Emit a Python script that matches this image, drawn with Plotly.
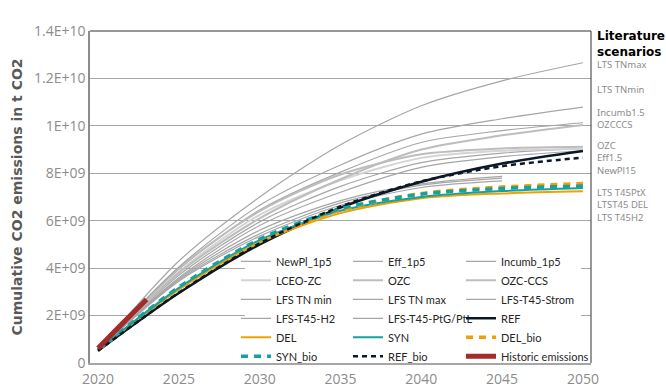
import plotly.graph_objects as go

# ---------------- data ----------------
YEARS = [2020, 2025, 2030, 2035, 2040, 2045, 2050]
YEARS_TO_2045 = [2020, 2025, 2030, 2035, 2040, 2045]
HIST_YEARS = [2020, 2021, 2022, 2023]

# cumulative CO2 emissions, billions of t CO2
newpl_1p5 = [0.55, 3.6, 5.8, 7.2, 8.25, 8.7, 8.95]
eff_1p5 = [0.55, 3.7, 5.95, 7.45, 8.45, 8.85, 9.05]
incumb_1p5 = [0.55, 3.95, 6.45, 8.05, 9.3, 9.8, 10.13]
lceo_zc = [0.55, 3.85, 6.25, 7.7, 8.65, 8.95, 9.02]
ozc = [0.55, 4.0, 6.4, 7.95, 8.8, 9.05, 9.12]
ozc_ccs = [0.55, 3.8, 6.1, 7.75, 9.0, 9.6, 10.04]
lfs_tn_min = [0.55, 4.05, 6.65, 8.35, 9.65, 10.3, 10.79]
lfs_tn_max = [0.55, 4.3, 7.0, 9.2, 10.85, 11.9, 12.66]
lfs_t45_strom = [0.55, 3.55, 5.6, 6.85, 7.55, 7.87]
lfs_t45_h2 = [0.55, 3.5, 5.45, 6.75, 7.5, 7.8]
lfs_t45_ptg = [0.55, 3.45, 5.35, 6.65, 7.4, 7.68]
ref = [0.52, 2.95, 5.0, 6.55, 7.64, 8.41, 8.94]
dele = [0.55, 3.1, 5.08, 6.32, 6.95, 7.15, 7.24]
syn = [0.55, 3.17, 5.18, 6.42, 7.0, 7.25, 7.38]
del_bio = [0.55, 3.15, 5.15, 6.45, 7.15, 7.42, 7.57]
syn_bio = [0.55, 3.2, 5.22, 6.5, 7.12, 7.36, 7.46]
ref_bio = [0.52, 2.97, 5.05, 6.6, 7.66, 8.3, 8.66]
historic = [0.62, 1.32, 2.0, 2.68]

X_TICKS = [2020, 2025, 2030, 2035, 2040, 2045, 2050]
X_TICK_TEXT = ["2020", "2025", "2030", "2035", "2040", "2045", "2050"]
Y_TICKS = [0, 2e9, 4e9, 6e9, 8e9, 1e10, 1.2e10, 1.4e10]
Y_TICK_TEXT = ["0", "2E+09", "4E+09", "6E+09", "8E+09", "1E+10", "1.2E+10", "1.4E+10"]

# right-hand literature labels (groups of lines) and the value each group is centred on
LIT_GROUPS = [["LTS TNmax"], ["LTS TNmin"], ["Incumb1.5", "OZCCCS"],
              ["OZC", "Eff1.5", "NewPl15"], ["LTS T45PtX", "LTST45 DEL", "LTS T45H2"]]
LIT_GROUP_Y = [12.58, 11.53, 10.3, 8.63, 6.65]

SCALE = 1e9

fig = go.Figure()


def add(name, x, y, color, width, legend, dash="solid"):
    fig.add_trace(go.Scatter(
        x=x, y=[v * SCALE for v in y], name=name, mode="lines",
        line=dict(color=color, width=width, dash=dash, shape="spline", smoothing=0.8),
        legend=legend, hoverinfo="skip"))


GRAY = "#a6a6a6"
add("NewPl_1p5", YEARS, newpl_1p5, GRAY, 1.2, "legend")
add("Eff_1p5", YEARS, eff_1p5, GRAY, 1.2, "legend2")
add("Incumb_1p5", YEARS, incumb_1p5, GRAY, 1.2, "legend3")
add("LCEO-ZC", YEARS, lceo_zc, "#d4d4d4", 2, "legend")
add("OZC", YEARS, ozc, "#bdbdbd", 2, "legend2")
add("OZC-CCS", YEARS, ozc_ccs, "#bdbdbd", 2, "legend3")
add("LFS TN min", YEARS, lfs_tn_min, GRAY, 1.2, "legend")
add("LFS TN max", YEARS, lfs_tn_max, GRAY, 1.2, "legend2")
add("LFS-T45-Strom", YEARS_TO_2045, lfs_t45_strom, GRAY, 1.2, "legend3")
add("LFS-T45-H2", YEARS_TO_2045, lfs_t45_h2, GRAY, 1.2, "legend")
add("LFS-T45-PtG/PtL", YEARS_TO_2045, lfs_t45_ptg, GRAY, 1.2, "legend2")
add("REF", YEARS, ref, "#0b1826", 2.5, "legend3")
add("DEL", YEARS, dele, "#f2a000", 2, "legend")
add("SYN", YEARS, syn, "#17a0a0", 2, "legend2")
add("DEL_bio", YEARS, del_bio, "#f2a000", 3.5, "legend3", dash="7px,6px")
add("SYN_bio", YEARS, syn_bio, "#17a0a0", 3.5, "legend", dash="7px,6px")
add("REF_bio", YEARS, ref_bio, "#0b1826", 2.5, "legend2", dash="5px,4px")
add("Historic emissions", HIST_YEARS, historic, "#a52a2a", 5, "legend3")

TICK_FONT = dict(family="Open Sans", size=14, color="#8c8c8c")
LEG_FONT = dict(family="Lato", size=11, color="#262626")
leg_common = dict(yanchor="top", xanchor="left", y=0.35, bgcolor="rgba(0,0,0,0)",
                  borderwidth=0, font=LEG_FONT, itemwidth=30, tracegroupgap=0)

fig.update_layout(
    width=666, height=388,
    margin=dict(l=90, r=75, t=31, b=25, autoexpand=False),
    plot_bgcolor="white", paper_bgcolor="white",
    showlegend=True,
    xaxis=dict(range=[2019.5, 2050.5], tickvals=X_TICKS, ticktext=X_TICK_TEXT,
               showgrid=False, zeroline=False, showline=True, linecolor="#a6a6a6",
               linewidth=1.5, ticks="", tickfont=TICK_FONT, ticklabelstandoff=2),
    yaxis=dict(range=[0, 1.4e10], tickvals=Y_TICKS, ticktext=Y_TICK_TEXT,
               showgrid=True, gridcolor="#a6a6a6", gridwidth=1, zeroline=False,
               showline=True, linecolor="#8c8c8c", linewidth=1.5, ticks="",
               tickfont=TICK_FONT,
               title=dict(text="Cumulative CO2 emissions in t CO2", standoff=8,
                          font=dict(family="DejaVu Sans", size=14, color="#595959",
                                    weight="bold"))),
    legend=dict(x=0.2914, **leg_common),
    legend2=dict(x=0.515, **leg_common),
    legend3=dict(x=0.7405, **leg_common),
    shapes=[
        # white backing for the legend block
        dict(type="rect", xref="paper", yref="paper", x0=0.309, x1=0.98, y0=0.007, y1=0.315,
             fillcolor="white", line=dict(width=0), layer="above"),
        # frame top and right
        dict(type="line", xref="paper", yref="paper", x0=0, x1=1, y0=1, y1=1,
             line=dict(color="#333333", width=1), layer="above"),
        dict(type="line", xref="paper", yref="paper", x0=1, x1=1, y0=0, y1=1,
             line=dict(color="#333333", width=1), layer="above"),
    ],
)

annotations = [dict(x=1.008, y=1.011, xref="paper", yref="paper", xanchor="left", yanchor="top",
                    text="Literature<br>scenarios", showarrow=False, align="left",
                    font=dict(family="DejaVu Sans", size=12, color="#000000", weight="bold"))]
for group, yv in zip(LIT_GROUPS, LIT_GROUP_Y):
    annotations.append(dict(x=1.008, y=yv * SCALE, xref="paper", yref="y", xanchor="left",
                            yanchor="middle", text="<br>".join(group), showarrow=False,
                            align="left",
                            font=dict(family="Noto Sans", size=9.5, color="#8c8c8c")))
fig.update_layout(annotations=annotations)

fig.write_html("out.html")
